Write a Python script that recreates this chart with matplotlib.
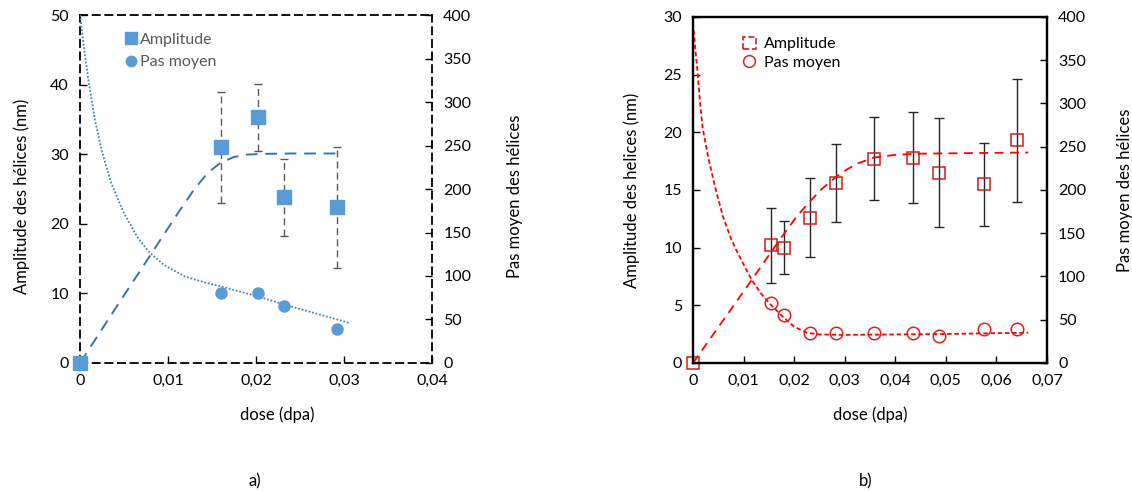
import matplotlib
matplotlib.use('Agg')
import matplotlib.pyplot as plt
import matplotlib.patches as mpatches
from matplotlib.lines import Line2D
from matplotlib.ticker import FuncFormatter, MultipleLocator

plt.rcParams['font.family'] = ['Lato', 'DejaVu Sans']
plt.rcParams['font.size'] = 11.5

# ---- a) data ----
dose_a = [0, 0.0160, 0.0202, 0.0232, 0.0292]
ampl_a = [0, 31.0, 35.3, 23.8, 22.4]
ampl_err_a = [0, 8.0, 4.8, 5.5, 8.7]
pas_dose_a = [0.0160, 0.0202, 0.0232, 0.0292]
pas_a = [80, 80, 66, 39.5]
# trend lines
fit_ampl_x_a = [0, 0.004, 0.008, 0.011, 0.013, 0.0145, 0.016, 0.0175, 0.019, 0.021, 0.024, 0.0292]
fit_ampl_y_a = [0, 7.8, 15.5, 21.3, 25.0, 27.3, 28.8, 29.6, 29.95, 30.05, 30.1, 30.1]
fit_pas_x_a = [0, 0.0005, 0.001, 0.0017, 0.0025, 0.0035, 0.005, 0.0065, 0.0078, 0.0095,
               0.0119, 0.014, 0.016, 0.020, 0.0233, 0.0306]
fit_pas_y_a = [400, 358, 322, 279, 243, 208, 172, 145, 128, 113, 99.5, 93, 88, 77, 67, 46]

# ---- b) data ----
dose_b = [0, 0.0154, 0.0180, 0.0231, 0.0282, 0.0357, 0.0435, 0.0487, 0.0575, 0.0640]
ampl_b = [0, 10.2, 10.0, 12.6, 15.6, 17.7, 17.8, 16.5, 15.5, 19.3]
ampl_err_b = [0, 3.25, 2.3, 3.4, 3.4, 3.6, 3.95, 4.75, 3.6, 5.35]
pas_dose_b = [0.0154, 0.0180, 0.0231, 0.0282, 0.0357, 0.0435, 0.0487, 0.0575, 0.0640]
pas_b = [69.5, 55.5, 34.7, 34.7, 34.7, 34.7, 30.8, 39.3, 39.3]
fit_ampl_x_b = [0, 0.005, 0.010, 0.0151, 0.018, 0.0205, 0.0231, 0.0255, 0.0282, 0.0305,
                0.0326, 0.0357, 0.040, 0.045, 0.055, 0.0663]
fit_ampl_y_b = [0, 3.1, 6.2, 9.4, 11.2, 12.7, 14.0, 15.1, 16.1, 16.8, 17.3, 17.8, 18.05,
                18.15, 18.2, 18.25]
fit_pas_x_b = [0, 0.0004, 0.0009, 0.0014, 0.0019, 0.003, 0.0045, 0.006, 0.0075, 0.0086, 0.010,
               0.0116, 0.0135, 0.0151, 0.0177, 0.020, 0.0225, 0.025, 0.030, 0.040, 0.050,
               0.060, 0.0663]
fit_pas_y_b = [393, 366, 336, 300, 272, 238, 200, 168, 144, 130, 114, 96, 80, 69, 54, 42, 35,
               33, 32.5, 33, 33.5, 34.5, 35]


def comma(v, pos):
    if abs(v) < 1e-12:
        return '0'
    return ('%.2f' % v).replace('.', ',')


fig = plt.figure(figsize=(11.32, 4.92), dpi=100)

# ================= a) =================
ax = fig.add_axes([0.0707, 0.2622, 0.311, 0.7073])
ax2 = ax.twinx()
blue = '#5B9BD5'

ax.errorbar(dose_a, ampl_a, yerr=ampl_err_a, fmt='none', ecolor='#595959',
            elinewidth=1, capsize=3, zorder=2)
for c in ax.containers[-1].lines[2]:
    c.set_linestyle((0, (5, 3)))
ax.plot(fit_ampl_x_a, fit_ampl_y_a, ls=(0, (6, 4)), color='#3C70AA', lw=1.4, zorder=3)
ax.plot(dose_a, ampl_a, 's', color=blue, ms=9.5, zorder=4, clip_on=False)

ax2.plot(fit_pas_x_a, fit_pas_y_a, ls=(0, (1, 1)), color='#4A7EBB', lw=1.3)
ax2.plot(pas_dose_a, pas_a, 'o', color=blue, ms=8, zorder=4)

ax.set_xlim(0, 0.04)
ax.set_ylim(0, 50)
ax2.set_ylim(0, 400)
ax.xaxis.set_major_locator(MultipleLocator(0.01))
ax.xaxis.set_major_formatter(FuncFormatter(comma))
ax.yaxis.set_major_locator(MultipleLocator(10))
ax2.yaxis.set_major_locator(MultipleLocator(50))
for s in ax.spines.values():
    s.set_linestyle((0, (4, 3)))
    s.set_linewidth(1.3)
for s in ax2.spines.values():
    s.set_visible(False)
ax.tick_params(direction='in', length=5, width=1, pad=8)
ax2.tick_params(direction='in', length=5, width=1, pad=8)
ax.set_xlabel('dose (dpa)', fontsize=12)
ax.xaxis.set_label_coords(0.56, -0.125)
ax.set_ylabel('Amplitude des hélices (nm)', fontsize=12)
ax.yaxis.set_label_coords(-0.142, 0.48)
ax2.set_ylabel('Pas moyen des hélices', fontsize=12)
ax2.yaxis.set_label_coords(1.213, 0.48)

hs = [Line2D([], [], marker='s', color=blue, ls='none', ms=8),
      Line2D([], [], marker='o', color=blue, ls='none', ms=7.5)]
leg = ax.legend(hs, ['Amplitude', 'Pas moyen'], loc='upper left',
                bbox_to_anchor=(0.08, 0.99), frameon=False, handletextpad=0.1,
                handlelength=1, labelspacing=0.5)
for t in leg.get_texts():
    t.set_color('#595959')

fig.text(0.225, 0.022, 'a)', ha='center', va='center', fontsize=12)

# ================= b) =================
bx = fig.add_axes([0.6122, 0.2622, 0.3127, 0.7033])
bx2 = bx.twinx()
red = '#FF0000'

bx.errorbar(dose_b, ampl_b, yerr=ampl_err_b, fmt='none', ecolor='#262626',
            elinewidth=1, capsize=3.5, zorder=2)
bx.plot(fit_ampl_x_b, fit_ampl_y_b, ls=(0, (5, 3.5)), color=red, lw=1.3, zorder=3)
bx.plot(dose_b, ampl_b, 's', mfc='none', mec='#CC1F1F', mew=1.1, ms=9, zorder=4,
        clip_on=False)

bx2.plot(fit_pas_x_b, fit_pas_y_b, ls=(0, (2.5, 1.5)), color=red, lw=1.3)
bx2.plot(pas_dose_b, pas_b, 'o', mfc='none', mec='#E02020', mew=1.1, ms=9, zorder=4)

bx.set_xlim(0, 0.07)
bx.set_ylim(0, 30)
bx2.set_ylim(0, 400)
bx.xaxis.set_major_locator(MultipleLocator(0.01))
bx.xaxis.set_major_formatter(FuncFormatter(comma))
bx.yaxis.set_major_locator(MultipleLocator(5))
bx2.yaxis.set_major_locator(MultipleLocator(50))
for s in list(bx.spines.values()) + list(bx2.spines.values()):
    s.set_linewidth(1.6)
bx.tick_params(direction='in', length=5, width=1, pad=8)
bx2.tick_params(direction='in', length=5, width=1, pad=8)
bx.set_xlabel('dose (dpa)', fontsize=12)
bx.xaxis.set_label_coords(0.5, -0.125)
bx.set_ylabel('Amplitude des helices (nm)', fontsize=12)
bx.yaxis.set_label_coords(-0.15, 0.5)
bx2.set_ylabel('Pas moyen des hélices', fontsize=12)
bx2.yaxis.set_label_coords(1.198, 0.5)

hb = [mpatches.Rectangle((0, 0), 1, 1, fill=False, ec='#CC1F1F', ls='--', lw=1.2),
      Line2D([], [], marker='o', mfc='none', mec='#E02020', mew=1.1, ls='none', ms=8.5)]
bx.legend(hb, ['Amplitude', 'Pas moyen'], loc='upper left',
          bbox_to_anchor=(0.1, 0.985), frameon=False, handletextpad=0.5,
          handlelength=0.8, handleheight=0.8, labelspacing=0.25)

fig.text(0.765, 0.022, 'b)', ha='center', va='center', fontsize=12)

fig.savefig('out.png', dpi=100)
